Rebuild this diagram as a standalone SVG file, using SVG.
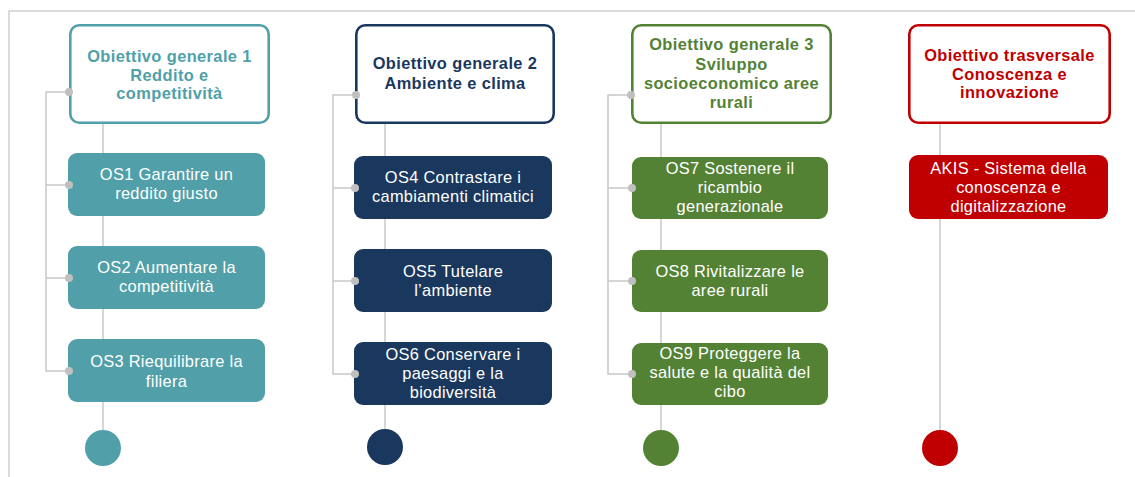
<svg xmlns="http://www.w3.org/2000/svg" width="1135" height="477" viewBox="0 0 1135 477">
<style>
.frame{fill:none;stroke:#d0d0d0;stroke-width:1.5}
.conn{fill:none;stroke:#c8c8c8;stroke-width:1.5}
.dot{fill:#c0c0c0}
.hdr{fill:#ffffff;stroke-width:2.6}
.ht{font-family:"Liberation Sans",Arial,sans-serif;font-weight:bold;font-size:16.4px;letter-spacing:0.4px;text-anchor:middle}
.st{font-family:"Liberation Sans",Arial,sans-serif;font-size:16.4px;letter-spacing:0.3px;fill:#ffffff;text-anchor:middle}
.c1{fill:#519fa9}.s1{stroke:#519fa9}
.c2{fill:#1a375e}.s2{stroke:#1a375e}
.c3{fill:#548235}.s3{stroke:#548235}
.c4{fill:#c00000}.s4{stroke:#c00000}
</style>
<path class="frame" d="M9,477 V11 H1135"/>
<g id="connectors">
<path class="conn" d="M103,123 V430"/>
<path class="conn" d="M69,92 H46 V371 H69 M46,185 H69 M46,278 H69"/>
<path class="conn" d="M385,124 V429"/>
<path class="conn" d="M356,95 H333 V374 H356 M333,188 H356 M333,281 H356"/>
<path class="conn" d="M661,124 V430"/>
<path class="conn" d="M631,95 H608 V374 H632 M608,188 H632 M608,281 H632"/>
<path class="conn" d="M940,124 V430"/>
</g>
<g id="og1">
<rect class="hdr s1" x="70.3" y="25.3" width="198.4" height="97.4" rx="9"/>
<text class="ht c1" x="169.5" y="62">Obiettivo generale 1</text>
<text class="ht c1" x="169.5" y="80.5">Reddito e</text>
<text class="ht c1" x="169.5" y="99">competitività</text>
</g>
<g id="os1"><rect class="c1" x="68" y="153" width="197" height="63" rx="9"/>
<text class="st" x="166.5" y="180">OS1 Garantire  un</text><text class="st" x="166.5" y="199">reddito giusto</text></g>
<g id="os2"><rect class="c1" x="68" y="246" width="197" height="63" rx="9"/>
<text class="st" x="166.5" y="273">OS2 Aumentare la</text><text class="st" x="166.5" y="292">competitività</text></g>
<g id="os3"><rect class="c1" x="68" y="339" width="197" height="63" rx="9"/>
<text class="st" x="166.5" y="367">OS3 Riequilibrare la</text><text class="st" x="166.5" y="387">filiera</text></g>
<g id="end1"><circle class="c1" cx="103" cy="448" r="18"/></g>

<g id="og2">
<rect class="hdr s2" x="356.3" y="25.3" width="197.4" height="97.4" rx="9"/>
<text class="ht c2" x="455" y="69">Obiettivo generale 2</text>
<text class="ht c2" x="455" y="89">Ambiente e clima</text>
</g>
<g id="os4"><rect class="c2" x="354" y="156" width="198" height="63" rx="9"/>
<text class="st" x="453" y="183">OS4 Contrastare i</text><text class="st" x="453" y="202">cambiamenti climatici</text></g>
<g id="os5"><rect class="c2" x="354" y="249" width="198" height="63" rx="9"/>
<text class="st" x="453" y="276.5">OS5 Tutelare</text><text class="st" x="453" y="295.5">l’ambiente</text></g>
<g id="os6"><rect class="c2" x="354" y="342" width="198" height="63" rx="9"/>
<text class="st" x="453" y="360">OS6 Conservare i</text><text class="st" x="453" y="379">paesaggi e la</text><text class="st" x="453" y="398">biodiversità</text></g>
<g id="end2"><circle class="c2" cx="385" cy="447" r="18"/></g>

<g id="og3">
<rect class="hdr s3" x="632.3" y="25.3" width="198.4" height="97.4" rx="9"/>
<text class="ht c3" x="731.5" y="50">Obiettivo generale 3</text>
<text class="ht c3" x="731.5" y="70">Sviluppo</text>
<text class="ht c3" x="731.5" y="89">socioeconomico aree</text>
<text class="ht c3" x="731.5" y="108">rurali</text>
</g>
<g id="os7"><rect class="c3" x="632" y="157" width="196" height="62" rx="9"/>
<text class="st" x="730" y="174">OS7 Sostenere il</text><text class="st" x="730" y="193">ricambio</text><text class="st" x="730" y="212">generazionale</text></g>
<g id="os8"><rect class="c3" x="632" y="250" width="196" height="62" rx="9"/>
<text class="st" x="730" y="277">OS8 Rivitalizzare le</text><text class="st" x="730" y="296">aree rurali</text></g>
<g id="os9"><rect class="c3" x="632" y="343" width="196" height="62" rx="9"/>
<text class="st" x="730" y="359">OS9  Proteggere la</text><text class="st" x="730" y="378">salute e la qualità del</text><text class="st" x="730" y="397">cibo</text></g>
<g id="end3"><circle class="c3" cx="661" cy="448" r="18"/></g>

<g id="ot">
<rect class="hdr s4" x="909.3" y="25.3" width="200.4" height="97.4" rx="9"/>
<text class="ht c4" x="1009.5" y="61">Obiettivo trasversale</text>
<text class="ht c4" x="1009.5" y="79.5">Conoscenza e</text>
<text class="ht c4" x="1009.5" y="98">innovazione</text>
</g>
<g id="akis"><rect class="c4" x="909" y="155" width="199" height="64" rx="9"/>
<text class="st" x="1008.5" y="174">AKIS - Sistema della</text><text class="st" x="1008.5" y="193">conoscenza e</text><text class="st" x="1008.5" y="212">digitalizzazione</text></g>
<g id="end4"><circle class="c4" cx="940" cy="448" r="18"/></g>

<g id="dots">
<circle class="dot" cx="69" cy="92" r="4"/><circle class="dot" cx="69" cy="185" r="4"/><circle class="dot" cx="69" cy="278" r="4"/><circle class="dot" cx="69" cy="371" r="4"/>
<circle class="dot" cx="356" cy="95" r="4"/><circle class="dot" cx="355" cy="188" r="4"/><circle class="dot" cx="355" cy="281" r="4"/><circle class="dot" cx="355" cy="374" r="4"/>
<circle class="dot" cx="631" cy="95" r="4"/><circle class="dot" cx="632" cy="188" r="4"/><circle class="dot" cx="632" cy="281" r="4"/><circle class="dot" cx="632" cy="374" r="4"/>
</g>
</svg>
